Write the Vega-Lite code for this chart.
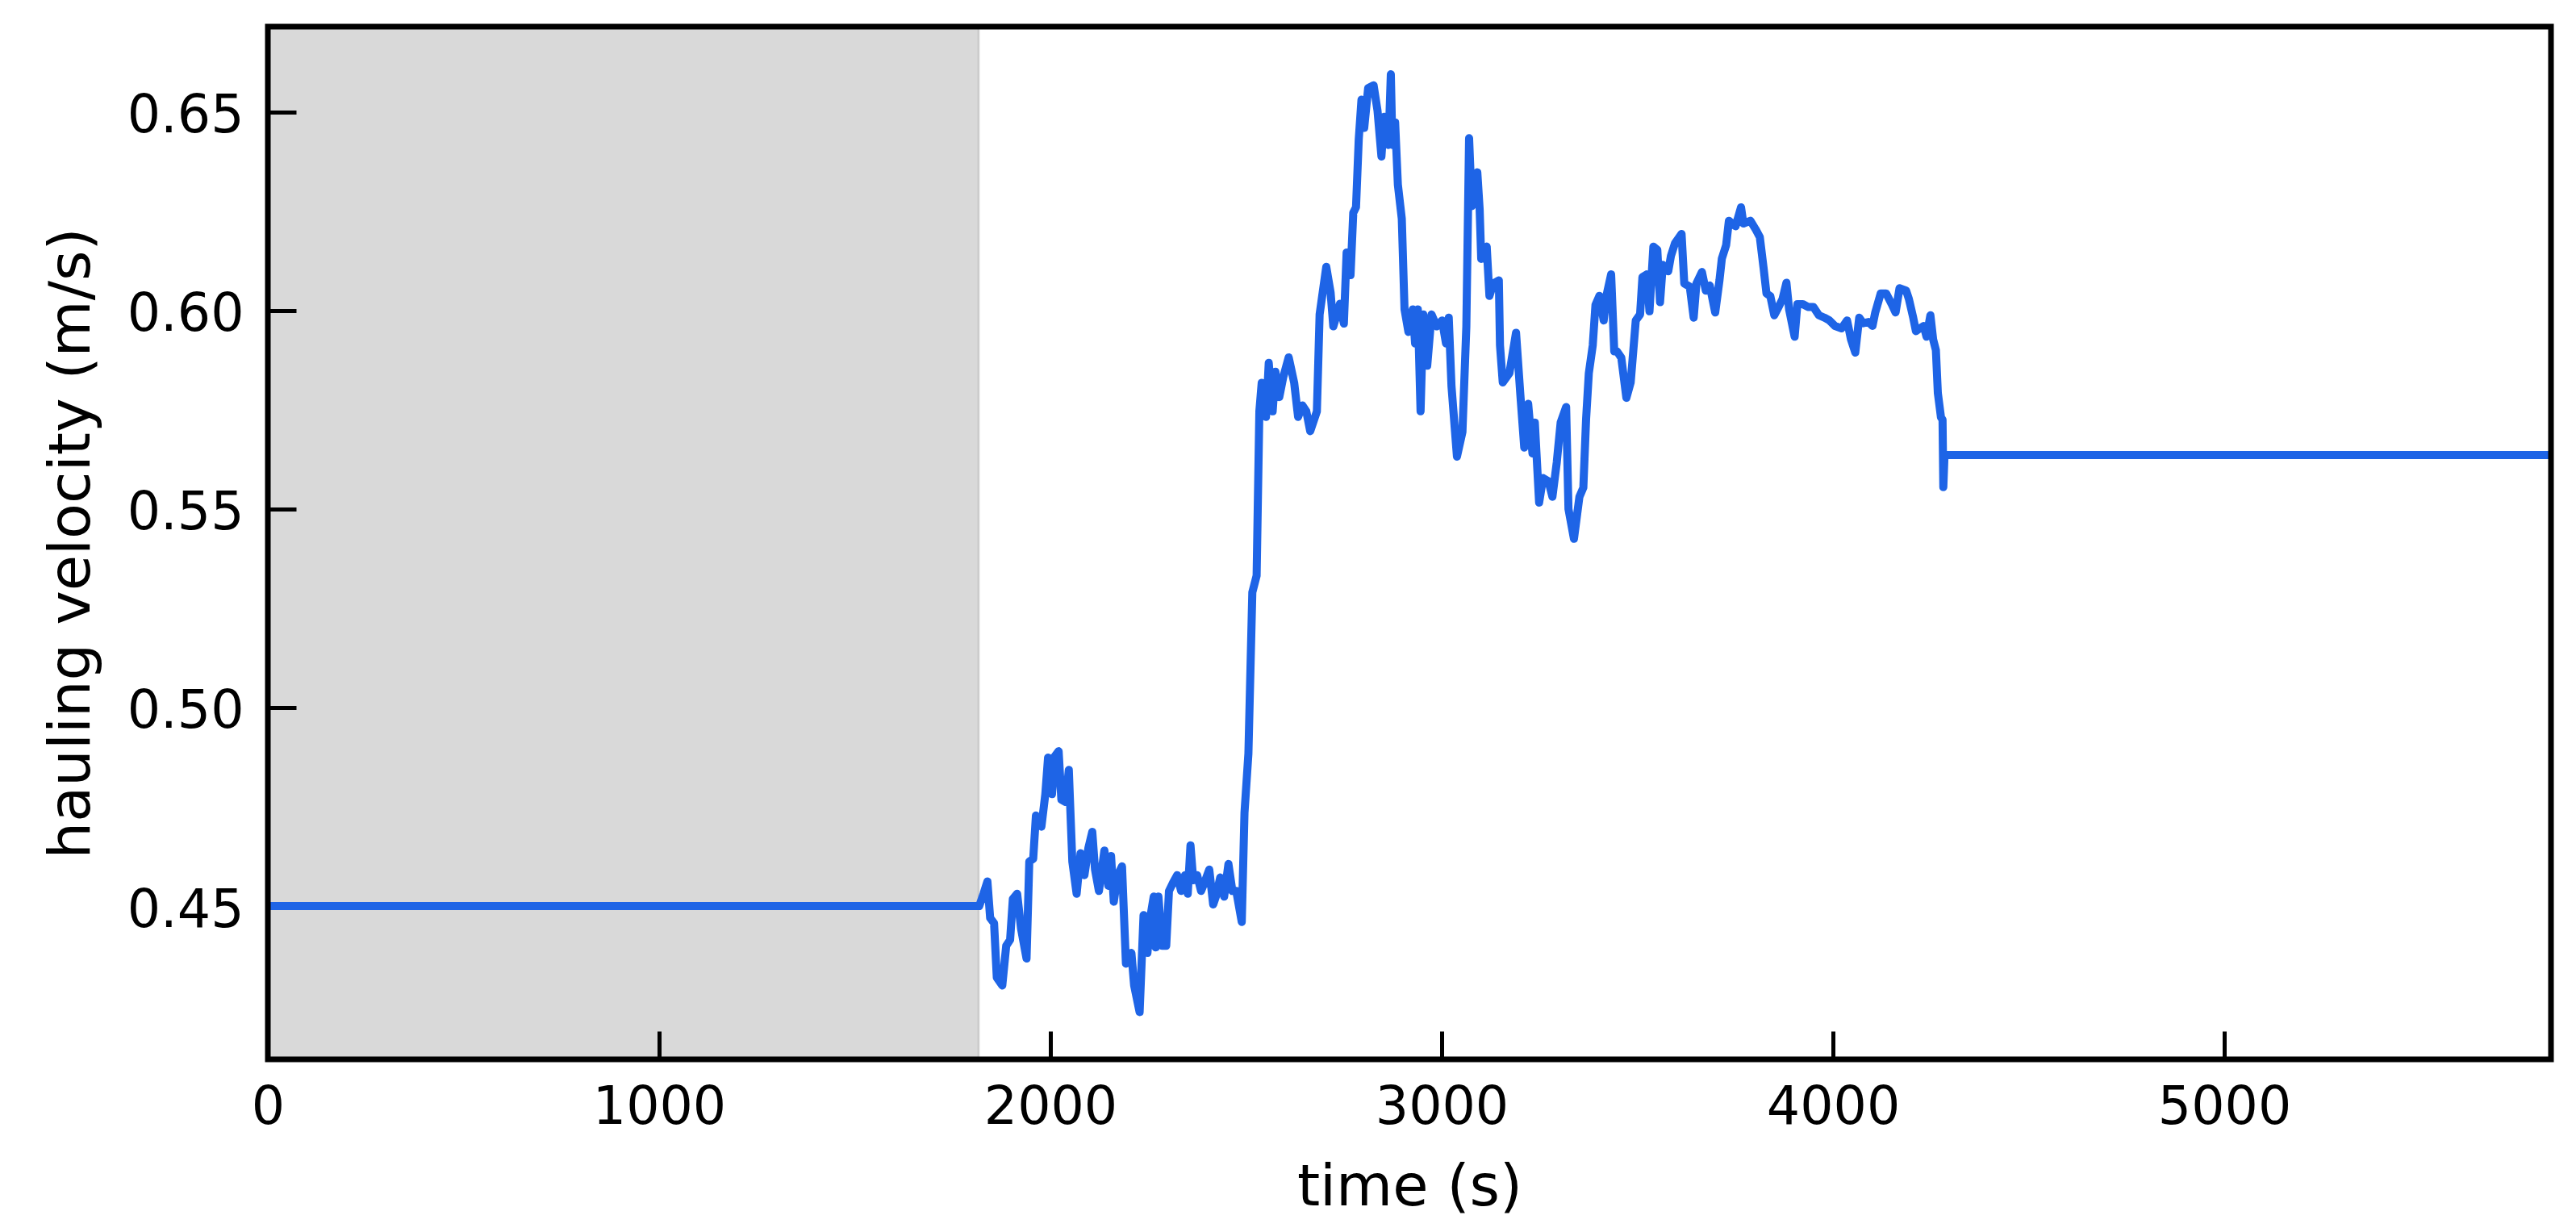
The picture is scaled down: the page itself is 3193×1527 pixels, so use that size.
{
  "$schema": "https://vega.github.io/schema/vega-lite/v6.json",
  "width": 2830,
  "height": 1280,
  "autosize": {"type": "none"},
  "padding": {"left": 332, "top": 33, "right": 31, "bottom": 214},
  "background": "white",
  "config": {
    "view": {"stroke": null},
    "font": "DejaVu Sans",
    "axis": {
      "domain": false,
      "grid": false,
      "ticks": true,
      "tickSize": -35,
      "tickWidth": 5,
      "tickColor": "black",
      "labelFont": "DejaVu Sans",
      "labelFontSize": 65,
      "labelColor": "black",
      "titleFont": "DejaVu Sans",
      "titleFontSize": 72,
      "titleFontWeight": "normal",
      "titleColor": "black",
      "labelOverlap": false,
      "labelFlush": false,
      "zindex": 0
    },
    "axisX": {
      "labelPadding": 63,
      "labelBaseline": "top",
      "titleX": 1415,
      "titleY": 180,
      "titleBaseline": "alphabetic",
      "titleAlign": "center"
    },
    "axisY": {
      "labelPadding": 65,
      "labelBaseline": "middle",
      "labelOffset": 5,
      "titleX": -222,
      "titleY": 640,
      "titleAngle": 270,
      "titleBaseline": "alphabetic",
      "titleAlign": "center"
    }
  },
  "datasets": {
    "shade": [{"start": 0, "end": 1817}],
    "velocity": [
      {"time": 0, "velocity": 0.45},
      {"time": 1818, "velocity": 0.45},
      {"time": 1829, "velocity": 0.4531},
      {"time": 1839, "velocity": 0.4562},
      {"time": 1846, "velocity": 0.447},
      {"time": 1856, "velocity": 0.4457},
      {"time": 1863, "velocity": 0.432},
      {"time": 1877, "velocity": 0.430},
      {"time": 1887, "velocity": 0.440},
      {"time": 1897, "velocity": 0.4415},
      {"time": 1904, "velocity": 0.4518},
      {"time": 1915, "velocity": 0.4531},
      {"time": 1925, "velocity": 0.4443},
      {"time": 1939, "velocity": 0.4368},
      {"time": 1946, "velocity": 0.4612},
      {"time": 1956, "velocity": 0.4619},
      {"time": 1963, "velocity": 0.4728},
      {"time": 1977, "velocity": 0.470},
      {"time": 1987, "velocity": 0.4782},
      {"time": 1994, "velocity": 0.4874},
      {"time": 2004, "velocity": 0.4782},
      {"time": 2011, "velocity": 0.4877},
      {"time": 2021, "velocity": 0.489},
      {"time": 2028, "velocity": 0.4768},
      {"time": 2039, "velocity": 0.4762},
      {"time": 2047, "velocity": 0.4843},
      {"time": 2056, "velocity": 0.4612},
      {"time": 2067, "velocity": 0.4531},
      {"time": 2077, "velocity": 0.4633},
      {"time": 2087, "velocity": 0.4578},
      {"time": 2097, "velocity": 0.4646},
      {"time": 2107, "velocity": 0.4687},
      {"time": 2114, "velocity": 0.4592},
      {"time": 2124, "velocity": 0.4538},
      {"time": 2138, "velocity": 0.464},
      {"time": 2148, "velocity": 0.4551},
      {"time": 2155, "velocity": 0.4626},
      {"time": 2162, "velocity": 0.4511},
      {"time": 2172, "velocity": 0.4578},
      {"time": 2183, "velocity": 0.460},
      {"time": 2193, "velocity": 0.4355},
      {"time": 2207, "velocity": 0.4382},
      {"time": 2214, "velocity": 0.430},
      {"time": 2228, "velocity": 0.4233},
      {"time": 2238, "velocity": 0.4477},
      {"time": 2248, "velocity": 0.4382},
      {"time": 2255, "velocity": 0.447},
      {"time": 2264, "velocity": 0.4524},
      {"time": 2269, "velocity": 0.4396},
      {"time": 2276, "velocity": 0.4524},
      {"time": 2286, "velocity": 0.440},
      {"time": 2296, "velocity": 0.440},
      {"time": 2303, "velocity": 0.4538},
      {"time": 2313, "velocity": 0.4558},
      {"time": 2324, "velocity": 0.4578},
      {"time": 2334, "velocity": 0.4538},
      {"time": 2344, "velocity": 0.4578},
      {"time": 2351, "velocity": 0.4531},
      {"time": 2358, "velocity": 0.4653},
      {"time": 2365, "velocity": 0.4565},
      {"time": 2375, "velocity": 0.4578},
      {"time": 2385, "velocity": 0.4538},
      {"time": 2396, "velocity": 0.4565},
      {"time": 2406, "velocity": 0.4592},
      {"time": 2416, "velocity": 0.4504},
      {"time": 2423, "velocity": 0.4524},
      {"time": 2434, "velocity": 0.4572},
      {"time": 2444, "velocity": 0.4524},
      {"time": 2455, "velocity": 0.4606},
      {"time": 2465, "velocity": 0.4538},
      {"time": 2475, "velocity": 0.4538},
      {"time": 2489, "velocity": 0.446},
      {"time": 2496, "velocity": 0.4735},
      {"time": 2506, "velocity": 0.4884},
      {"time": 2516, "velocity": 0.529},
      {"time": 2527, "velocity": 0.5332},
      {"time": 2534, "velocity": 0.5746},
      {"time": 2540, "velocity": 0.5818},
      {"time": 2551, "velocity": 0.5732},
      {"time": 2558, "velocity": 0.5868},
      {"time": 2568, "velocity": 0.5746},
      {"time": 2575, "velocity": 0.5846},
      {"time": 2585, "velocity": 0.5782},
      {"time": 2595, "velocity": 0.5832},
      {"time": 2609, "velocity": 0.5882},
      {"time": 2623, "velocity": 0.5818},
      {"time": 2633, "velocity": 0.5732},
      {"time": 2644, "velocity": 0.5761},
      {"time": 2654, "velocity": 0.5746},
      {"time": 2664, "velocity": 0.5696},
      {"time": 2681, "velocity": 0.5746},
      {"time": 2688, "velocity": 0.599},
      {"time": 2705, "velocity": 0.611},
      {"time": 2716, "velocity": 0.6046},
      {"time": 2723, "velocity": 0.596},
      {"time": 2740, "velocity": 0.6017},
      {"time": 2750, "velocity": 0.5967},
      {"time": 2757, "velocity": 0.6146},
      {"time": 2767, "velocity": 0.6089},
      {"time": 2774, "velocity": 0.6246},
      {"time": 2781, "velocity": 0.626},
      {"time": 2788, "velocity": 0.6431},
      {"time": 2795, "velocity": 0.6531},
      {"time": 2802, "velocity": 0.646},
      {"time": 2812, "velocity": 0.656},
      {"time": 2826, "velocity": 0.6567},
      {"time": 2836, "velocity": 0.6503},
      {"time": 2846, "velocity": 0.6388},
      {"time": 2853, "velocity": 0.6488},
      {"time": 2864, "velocity": 0.6417},
      {"time": 2870, "velocity": 0.6595},
      {"time": 2874, "velocity": 0.6417},
      {"time": 2881, "velocity": 0.6474},
      {"time": 2888, "velocity": 0.6317},
      {"time": 2898, "velocity": 0.6231},
      {"time": 2905, "velocity": 0.6003},
      {"time": 2915, "velocity": 0.5946},
      {"time": 2926, "velocity": 0.6003},
      {"time": 2932, "velocity": 0.5917},
      {"time": 2939, "velocity": 0.6003},
      {"time": 2946, "velocity": 0.5746},
      {"time": 2953, "velocity": 0.599},
      {"time": 2963, "velocity": 0.5861},
      {"time": 2974, "velocity": 0.599},
      {"time": 2987, "velocity": 0.596},
      {"time": 3001, "velocity": 0.5975},
      {"time": 3011, "velocity": 0.5917},
      {"time": 3018, "velocity": 0.5982},
      {"time": 3025, "velocity": 0.581},
      {"time": 3039, "velocity": 0.5632},
      {"time": 3053, "velocity": 0.5694},
      {"time": 3063, "velocity": 0.596},
      {"time": 3070, "velocity": 0.6434},
      {"time": 3077, "velocity": 0.6263},
      {"time": 3091, "velocity": 0.6348},
      {"time": 3097, "velocity": 0.6255},
      {"time": 3101, "velocity": 0.613},
      {"time": 3115, "velocity": 0.6161},
      {"time": 3122, "velocity": 0.6037},
      {"time": 3132, "velocity": 0.6068},
      {"time": 3146, "velocity": 0.6076},
      {"time": 3149, "velocity": 0.5912},
      {"time": 3156, "velocity": 0.5819},
      {"time": 3173, "velocity": 0.5842},
      {"time": 3190, "velocity": 0.5944},
      {"time": 3201, "velocity": 0.5788},
      {"time": 3211, "velocity": 0.5655},
      {"time": 3221, "velocity": 0.5765},
      {"time": 3232, "velocity": 0.564},
      {"time": 3238, "velocity": 0.5718},
      {"time": 3249, "velocity": 0.5516},
      {"time": 3259, "velocity": 0.5578},
      {"time": 3273, "velocity": 0.557},
      {"time": 3283, "velocity": 0.5531},
      {"time": 3294, "velocity": 0.5617},
      {"time": 3304, "velocity": 0.5718},
      {"time": 3318, "velocity": 0.5757},
      {"time": 3324, "velocity": 0.55},
      {"time": 3338, "velocity": 0.5425},
      {"time": 3352, "velocity": 0.5531},
      {"time": 3362, "velocity": 0.5554},
      {"time": 3369, "velocity": 0.5726},
      {"time": 3376, "velocity": 0.5842},
      {"time": 3386, "velocity": 0.5912},
      {"time": 3393, "velocity": 0.6014},
      {"time": 3403, "velocity": 0.6037},
      {"time": 3414, "velocity": 0.5975},
      {"time": 3421, "velocity": 0.6037},
      {"time": 3433, "velocity": 0.6091},
      {"time": 3441, "velocity": 0.5897},
      {"time": 3448, "velocity": 0.5897},
      {"time": 3459, "velocity": 0.5881},
      {"time": 3472, "velocity": 0.578},
      {"time": 3483, "velocity": 0.5819},
      {"time": 3496, "velocity": 0.5975},
      {"time": 3507, "velocity": 0.599},
      {"time": 3513, "velocity": 0.6084},
      {"time": 3524, "velocity": 0.6091},
      {"time": 3531, "velocity": 0.5998},
      {"time": 3541, "velocity": 0.6161},
      {"time": 3551, "velocity": 0.6153},
      {"time": 3558, "velocity": 0.6021},
      {"time": 3565, "velocity": 0.6115},
      {"time": 3579, "velocity": 0.6099},
      {"time": 3586, "velocity": 0.6138},
      {"time": 3596, "velocity": 0.6169},
      {"time": 3613, "velocity": 0.6193},
      {"time": 3620, "velocity": 0.6068},
      {"time": 3634, "velocity": 0.606},
      {"time": 3644, "velocity": 0.5982},
      {"time": 3651, "velocity": 0.6068},
      {"time": 3665, "velocity": 0.6097},
      {"time": 3675, "velocity": 0.605},
      {"time": 3685, "velocity": 0.6063},
      {"time": 3699, "velocity": 0.5995},
      {"time": 3710, "velocity": 0.6077},
      {"time": 3716, "velocity": 0.6131},
      {"time": 3727, "velocity": 0.6165},
      {"time": 3734, "velocity": 0.6226},
      {"time": 3751, "velocity": 0.6212},
      {"time": 3765, "velocity": 0.626},
      {"time": 3771, "velocity": 0.6219},
      {"time": 3789, "velocity": 0.6226},
      {"time": 3802, "velocity": 0.6205},
      {"time": 3813, "velocity": 0.6185},
      {"time": 3823, "velocity": 0.6104},
      {"time": 3830, "velocity": 0.6043},
      {"time": 3840, "velocity": 0.6036},
      {"time": 3850, "velocity": 0.5988},
      {"time": 3861, "velocity": 0.6009},
      {"time": 3871, "velocity": 0.6029},
      {"time": 3881, "velocity": 0.607},
      {"time": 3888, "velocity": 0.6002},
      {"time": 3902, "velocity": 0.5934},
      {"time": 3909, "velocity": 0.6016},
      {"time": 3923, "velocity": 0.6016},
      {"time": 3936, "velocity": 0.6009},
      {"time": 3950, "velocity": 0.6009},
      {"time": 3964, "velocity": 0.5988},
      {"time": 3978, "velocity": 0.5982},
      {"time": 3991, "velocity": 0.5975},
      {"time": 4005, "velocity": 0.5961},
      {"time": 4022, "velocity": 0.5955},
      {"time": 4036, "velocity": 0.5975},
      {"time": 4046, "velocity": 0.5927},
      {"time": 4057, "velocity": 0.5894},
      {"time": 4067, "velocity": 0.5982},
      {"time": 4077, "velocity": 0.5968},
      {"time": 4091, "velocity": 0.5971},
      {"time": 4101, "velocity": 0.5961},
      {"time": 4108, "velocity": 0.5995},
      {"time": 4122, "velocity": 0.6043},
      {"time": 4136, "velocity": 0.6043},
      {"time": 4150, "velocity": 0.6016},
      {"time": 4160, "velocity": 0.5995},
      {"time": 4170, "velocity": 0.6056},
      {"time": 4187, "velocity": 0.605},
      {"time": 4194, "velocity": 0.6029},
      {"time": 4205, "velocity": 0.5982},
      {"time": 4212, "velocity": 0.5948},
      {"time": 4222, "velocity": 0.5955},
      {"time": 4232, "velocity": 0.5961},
      {"time": 4239, "velocity": 0.5934},
      {"time": 4249, "velocity": 0.5988},
      {"time": 4256, "velocity": 0.5927},
      {"time": 4263, "velocity": 0.590},
      {"time": 4268, "velocity": 0.5792},
      {"time": 4276, "velocity": 0.5731},
      {"time": 4280, "velocity": 0.5725},
      {"time": 4282, "velocity": 0.5555},
      {"time": 4285, "velocity": 0.5636},
      {"time": 5835, "velocity": 0.5636}
    ]
  },
  "layer": [
    {
      "data": {"name": "shade"},
      "mark": {"type": "rect", "fill": "#000000", "fillOpacity": 0.15, "stroke": null},
      "encoding": {
        "x": {"field": "start", "type": "quantitative", "title": "time (s)"},
        "x2": {"field": "end"}
      }
    },
    {
      "data": {"name": "shade"},
      "mark": {"type": "rule", "stroke": "#000000", "strokeOpacity": 0.1, "strokeWidth": 3},
      "encoding": {
        "x": {"field": "end", "type": "quantitative", "title": "time (s)"}
      }
    },
    {
      "data": {"name": "velocity"},
      "mark": {"type": "line", "stroke": "#1e64e6", "strokeWidth": 10, "strokeJoin": "round"},
      "encoding": {
        "x": {
          "field": "time",
          "type": "quantitative",
          "title": "time (s)",
          "scale": {"domain": [0, 5835], "nice": false, "zero": false},
          "axis": {"values": [0, 1000, 2000, 3000, 4000, 5000], "format": "d", "zindex": 0}
        },
        "y": {
          "field": "velocity",
          "type": "quantitative",
          "title": "hauling velocity (m/s)",
          "scale": {"domain": [0.4114, 0.6715], "nice": false, "zero": false},
          "axis": {"values": [0.45, 0.5, 0.55, 0.6, 0.65], "format": ".2f", "zindex": 0}
        }
      }
    },
    {
      "data": {"name": "shade"},
      "mark": {"type": "rect", "filled": false, "stroke": "black", "strokeWidth": 7},
      "encoding": {
        "x": {"datum": 0, "type": "quantitative"},
        "x2": {"datum": 5835},
        "y": {"datum": 0.4114, "type": "quantitative"},
        "y2": {"datum": 0.6715}
      }
    }
  ]
}
